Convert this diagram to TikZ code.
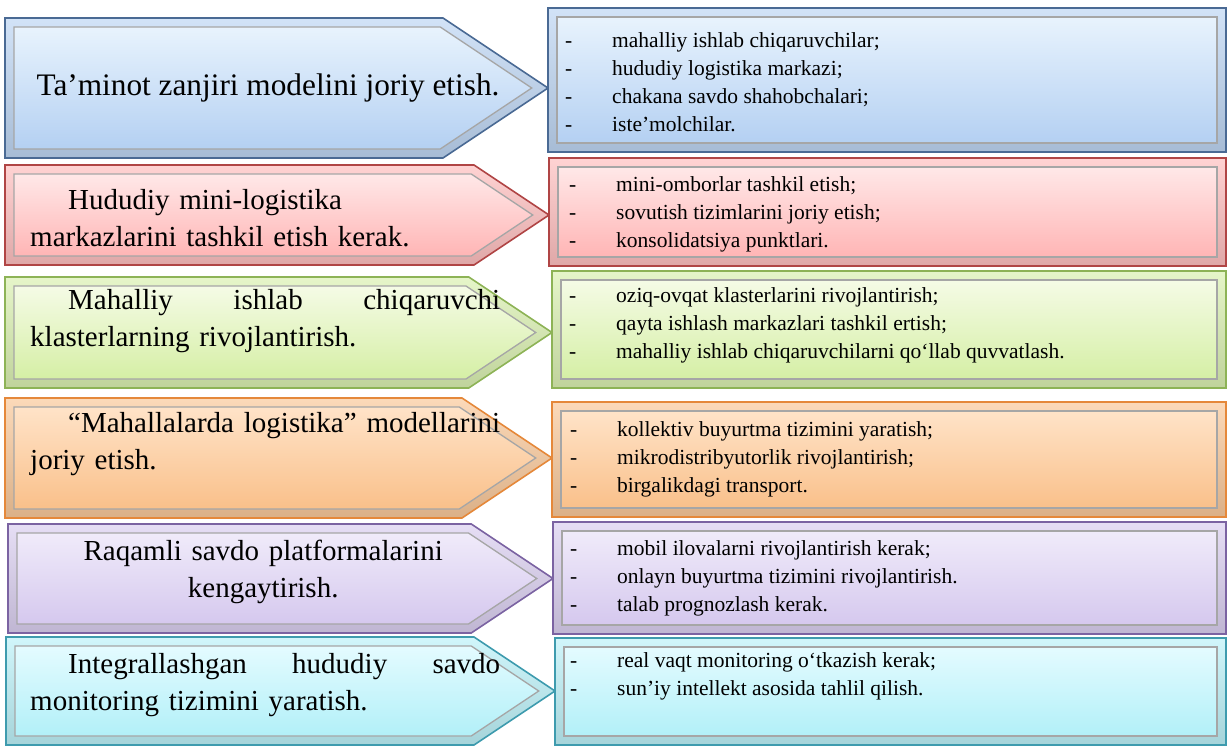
\documentclass[tikz,border=0pt]{standalone}
\usepackage{fontspec}
\setmainfont{Liberation Serif}
\usetikzlibrary{calc}

\definecolor{blueedge}{HTML}{4A6A94}\definecolor{bluetop}{HTML}{E8F3FD}\definecolor{bluebot}{HTML}{B4D0F2}
\definecolor{rededge}{HTML}{B04545}\definecolor{redtop}{HTML}{FFE8E8}\definecolor{redbot}{HTML}{FFB5B5}
\definecolor{greenedge}{HTML}{8DB356}\definecolor{greentop}{HTML}{F5FBE6}\definecolor{greenbot}{HTML}{D5EFA5}
\definecolor{orangeedge}{HTML}{E5883A}\definecolor{orangetop}{HTML}{FFE3C8}\definecolor{orangebot}{HTML}{F9C08A}
\definecolor{purpleedge}{HTML}{7B63A2}\definecolor{purpletop}{HTML}{F0EBFA}\definecolor{purplebot}{HTML}{D5C8EE}
\definecolor{cyanedge}{HTML}{3E9BAE}\definecolor{cyantop}{HTML}{E4FBFF}\definecolor{cyanbot}{HTML}{B2F0F8}

\newcommand{\ArrowShape}[5]{%
  \pgfmathsetmacro\ArrYM{(#1+#2)/2}%
  \pgfmathsetmacro\ArrBR{#4-0.75*(#2-#1)}%
  \pgfmathsetmacro\ArrIn{9}%
  \shade[top color=white!40!#5bot, bottom color=#5bot!75!gray, draw=#5edge, line width=1.6pt]
    (#3,#1) -- (\ArrBR,#1) -- (#4,\ArrYM) -- (\ArrBR,#2) -- (#3,#2) -- cycle;
  \shade[top color=#5top, bottom color=#5bot, draw=gray!70, line width=1.3pt]
    (#3+\ArrIn,#1+\ArrIn) -- (\ArrBR-0.303*\ArrIn,#1+\ArrIn) -- (#4-1.803*\ArrIn,\ArrYM)
    -- (\ArrBR-0.303*\ArrIn,#2-\ArrIn) -- (#3+\ArrIn,#2-\ArrIn) -- cycle;
}
\newcommand{\BoxShape}[5]{%
  \shade[top color=white!40!#5bot, bottom color=#5bot!75!gray, draw=#5edge, line width=1.6pt]
    (#1,#2) rectangle (#3,#4);
  \shade[top color=#5top, bottom color=#5bot, draw=gray!70, line width=1.3pt]
    (#1+9,#2+9) rectangle (#3-9,#4-9);
}
\newcommand{\Itm}[1]{\makebox[47pt][l]{-}#1}

\tikzset{
  lefttext/.style={font=\fontsize{29}{37}\selectfont, inner sep=0pt, align=left, text width=470pt, anchor=west},
  righttext/.style={font=\fontsize{21.5}{28}\selectfont, inner sep=0pt, align=left, anchor=west},
}

\begin{document}
\begin{tikzpicture}[x=1pt,y=-1pt]
\useasboundingbox[fill=white] (0,0) rectangle (1229,746);

% left arrows
\ArrowShape{18}{158}{5}{548}{blue}
\ArrowShape{165}{265}{5}{549}{red}
\ArrowShape{277}{388}{5}{552}{green}
\ArrowShape{398}{518}{5}{552}{orange}
\ArrowShape{524}{633}{8}{553}{purple}
\ArrowShape{637}{745}{6}{555}{cyan}

% right boxes
\BoxShape{548}{8}{1226}{152}{blue}
\BoxShape{549}{158}{1226}{266}{red}
\BoxShape{552}{271}{1226}{388}{green}
\BoxShape{552}{402}{1226}{517}{orange}
\BoxShape{553}{522}{1226}{634}{purple}
\BoxShape{555}{638}{1226}{745}{cyan}

% left texts
\node[font=\fontsize{31.3}{37}\selectfont, inner sep=0pt] (l1) at (268,88) {Ta’minot zanjiri modelini joriy etish.};
\node[lefttext] (l2) at (30,218) {\hspace*{38pt}Hududiy mini-logistika\\markazlarini tashkil etish kerak.};
\node[lefttext] (l3) at (30,321) {\makebox[470pt][l]{\hspace*{38pt}Mahalliy\hfill ishlab\hfill chiqaruvchi}\\klasterlarning rivojlantirish.};
\node[lefttext] (l4) at (30,444) {\makebox[470pt][l]{\hspace*{38pt}“Mahallalarda\hfill logistika”\hfill modellarini}\\joriy etish.};
\node[lefttext, align=center] (l5) at (28,572) {Raqamli savdo platformalarini\\kengaytirish.};
\node[lefttext] (l6) at (30,685) {\makebox[470pt][l]{\hspace*{38pt}Integrallashgan\hfill hududiy\hfill savdo}\\monitoring tizimini yaratish.};

% right texts
\node[righttext] (r1) at (565,82) {\Itm{mahalliy ishlab chiqaruvchilar;}\\\Itm{hududiy logistika markazi;}\\\Itm{chakana savdo shahobchalari;}\\\Itm{iste’molchilar.}};
\node[righttext] (r2) at (569,214) {\Itm{mini-omborlar tashkil etish;}\\\Itm{sovutish tizimlarini joriy etish;}\\\Itm{konsolidatsiya punktlari.}};
\node[righttext] (r3) at (569,325) {\Itm{oziq-ovqat klasterlarini rivojlantirish;}\\\Itm{qayta ishlash markazlari tashkil ertish;}\\\Itm{mahalliy ishlab chiqaruvchilarni qo‘llab quvvatlash.}};
\node[righttext] (r4) at (570,459) {\Itm{kollektiv buyurtma tizimini yaratish;}\\\Itm{mikrodistribyutorlik rivojlantirish;}\\\Itm{birgalikdagi transport.}};
\node[righttext] (r5) at (570,578) {\Itm{mobil ilovalarni rivojlantirish kerak;}\\\Itm{onlayn buyurtma tizimini rivojlantirish.}\\\Itm{talab prognozlash kerak.}};
\node[righttext] (r6) at (570,676) {\Itm{real vaqt monitoring o‘tkazish kerak;}\\\Itm{sun’iy intellekt asosida tahlil qilish.}};
\end{tikzpicture}
\end{document}
